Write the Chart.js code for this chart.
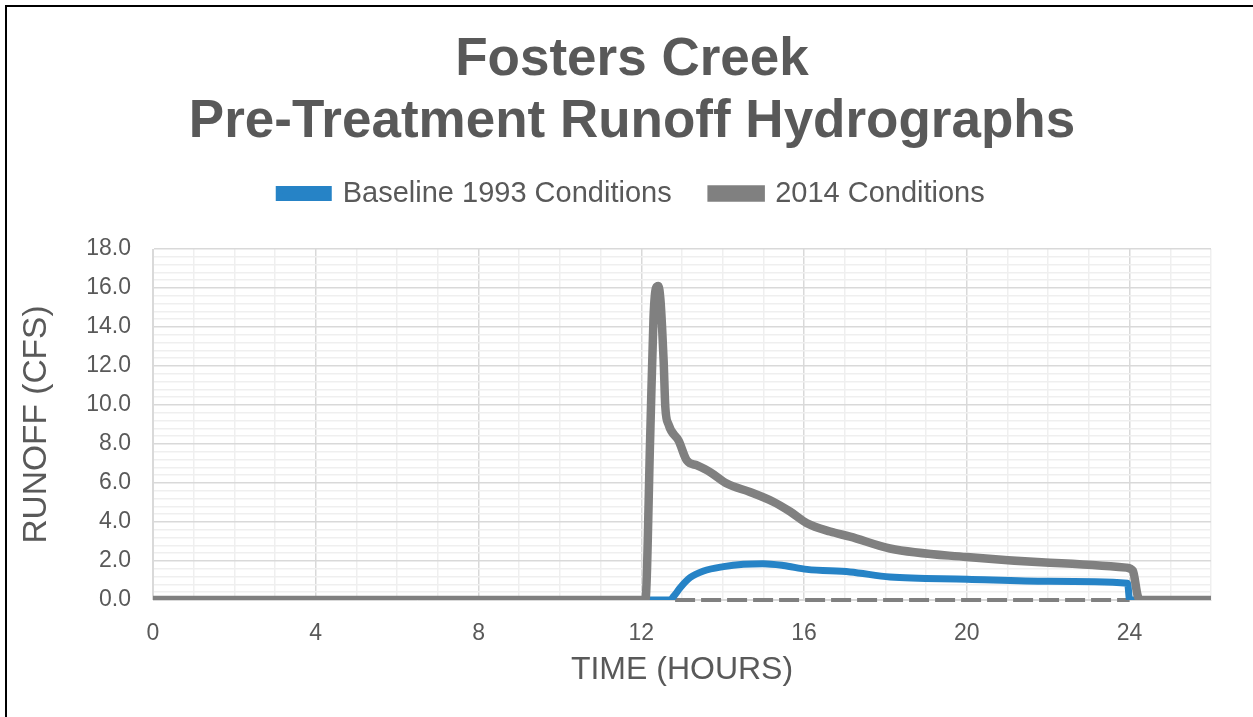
<!DOCTYPE html>
<html><head><meta charset="utf-8">
<script src="https://cdn.jsdelivr.net/npm/chart.js@4.4.0/dist/chart.umd.min.js"></script>
<style>
html,body{margin:0;padding:0;background:#fff;overflow:hidden;}
#wrap{position:relative;width:1253px;height:717px;overflow:hidden;background:#fff;}
#frame{position:absolute;left:5px;top:5px;width:1400px;height:900px;border-left:2px solid #000;border-top:2px solid #000;box-sizing:border-box;}
canvas{position:absolute;left:0;top:0;}
</style></head>
<body><div id="wrap"><div id="frame"></div><canvas id="c" width="1264" height="717"></canvas></div>
<script>
// ---- data ----
const titleLines = ['Fosters Creek', 'Pre-Treatment Runoff Hydrographs'];
const seriesNames = ['Baseline 1993 Conditions', '2014 Conditions'];
const xAxisTitle = 'TIME (HOURS)';
const yAxisTitle = 'RUNOFF (CFS)';

const baselineTime = [0, 12.7, 12.8, 12.96, 13.2, 13.53, 14.02, 14.51, 15.0, 15.49, 16.07, 17.13, 18.11, 20.0, 22.0, 23.95, 24.0, 26];
const baselineFlow = [0, 0, 0.2, 0.64, 1.15, 1.49, 1.71, 1.83, 1.86, 1.77, 1.57, 1.44, 1.18, 1.07, 0.96, 0.86, 0, 0];

const cond2014Time = [0, 12.1, 12.22, 12.3, 12.36, 12.42, 12.47, 12.51, 12.55, 12.59, 12.67, 12.92, 13.12, 13.37, 13.69, 14.1, 14.67, 15.24, 15.66, 16.07, 16.64, 17.13, 18.11, 20.0, 22.04, 23.92, 24.08, 24.2, 24.29, 26];
const cond2014Flow = [0, 0, 8.5, 14.5, 16.0, 16.1, 15.4, 14.0, 12.2, 9.9, 9.0, 8.16, 7.15, 6.9, 6.56, 5.97, 5.54, 5.04, 4.53, 3.94, 3.51, 3.25, 2.64, 2.2, 1.91, 1.66, 1.5, 0.2, 0, 0];

const zeroTraceTime = [12.83, 24.0];
const zeroTraceFlow = [0, 0];

const xTickLabels = [0, 4, 8, 12, 16, 20, 24];
const yTickLabels = [0, 2, 4, 6, 8, 10, 12, 14, 16, 18];

// ---- build ----
const pts = (xs, ys) => xs.map((x, i) => ({x: x, y: ys[i]}));
const FONT = '"Liberation Sans", Arial, sans-serif';
const TXT = '#595959';

new Chart(document.getElementById('c'), {
  type: 'line',
  data: {
    datasets: [
      {label: seriesNames[0], data: pts(baselineTime, baselineFlow), borderColor: '#2683C6', backgroundColor: '#2683C6',
       borderWidth: 7, pointRadius: 0, cubicInterpolationMode: 'monotone', order: 1},
      {label: seriesNames[1], data: pts(cond2014Time, cond2014Flow), borderColor: '#808080', backgroundColor: '#808080',
       borderWidth: 8.5, pointRadius: 0, cubicInterpolationMode: 'monotone', order: 0},
      {label: 'zero', data: pts(zeroTraceTime, zeroTraceFlow), borderColor: '#808080', borderWidth: 4,
       borderDash: [20, 6], pointRadius: 0, order: 2, clip: false}
    ]
  },
  options: {
    responsive: false,
    animation: false,
    devicePixelRatio: 1,
    layout: {padding: {left: 53, right: 53, top: 0, bottom: 0}},
    plugins: {
      title: {display: true, text: titleLines, color: TXT,
        font: {family: FONT, size: 53, weight: 'bold', lineHeight: 1.17},
        padding: {top: 29, bottom: -14}},
      legend: {display: true, position: 'top',
        labels: {color: TXT, font: {family: FONT, size: 29}, boxWidth: 49, boxHeight: 8, padding: 40,
          sort: (a, b) => a.datasetIndex - b.datasetIndex,
          filter: (item) => item.datasetIndex < 2}},
      tooltip: {enabled: false}
    },
    scales: {
      x: {type: 'linear', min: 0, max: 26,
        afterFit: (s) => { s.height = 117; },
        ticks: {stepSize: 1, autoSkip: false, maxRotation: 0, padding: 20, color: TXT,
          font: {family: FONT, size: 23},
          callback: (v) => xTickLabels.includes(v) ? String(v) : ''},
        grid: {drawTicks: false, lineWidth: 1.5,
          color: (ctx) => (ctx.tick && Math.abs(ctx.tick.value % 4) < 1e-6) ? '#d9d9d9' : '#efefef'},
        border: {display: true, color: '#d9d9d9', width: 1},
        title: {display: true, text: xAxisTitle, color: TXT, font: {family: FONT, size: 32},
          padding: {top: 0, bottom: 28}}
      },
      xTop: {type: 'linear', axis: 'x', position: 'top', display: true,
        afterFit: (s) => { s.height = 31; },
        grid: {display: false, drawTicks: false}, border: {display: false}, ticks: {display: false}},
      y: {type: 'linear', min: 0, max: 18,
        afterFit: (s) => { s.width = 100; },
        ticks: {stepSize: 0.4, autoSkip: false, padding: 22, color: TXT,
          font: {family: FONT, size: 23},
          callback: (v) => {
            const m = yTickLabels.find(t => Math.abs(t - v) < 1e-6);
            return m === undefined ? '' : m.toFixed(1);
          }},
        grid: {drawTicks: false, lineWidth: 1.5,
          color: (ctx) => (ctx.tick && Math.abs(ctx.tick.value / 2 - Math.round(ctx.tick.value / 2)) < 1e-6) ? '#d9d9d9' : '#efefef'},
        border: {display: true, color: '#d9d9d9', width: 1},
        title: {display: true, text: yAxisTitle, color: TXT, font: {family: FONT, size: 33.5},
          padding: {top: -36, bottom: 0}}
      }
    }
  }
});
</script>
</body></html>
